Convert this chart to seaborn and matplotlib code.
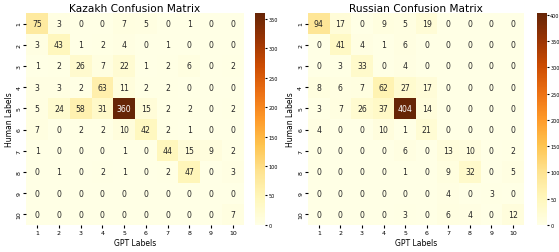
import matplotlib
matplotlib.use("Agg")
import matplotlib.pyplot as plt
import numpy as np
import seaborn as sns

labels = [str(i) for i in range(1, 11)]

kazakh_cm = [
    [75, 3, 0, 0, 7, 5, 0, 1, 0, 0],
    [3, 43, 1, 2, 4, 0, 1, 0, 0, 0],
    [1, 2, 26, 7, 22, 1, 2, 6, 0, 2],
    [3, 3, 2, 63, 11, 2, 2, 0, 0, 0],
    [5, 24, 58, 31, 360, 15, 2, 2, 0, 2],
    [7, 0, 2, 2, 10, 42, 2, 1, 0, 0],
    [1, 0, 0, 0, 1, 0, 44, 15, 9, 2],
    [0, 1, 0, 2, 1, 0, 2, 47, 0, 3],
    [0, 0, 0, 0, 0, 0, 0, 0, 0, 0],
    [0, 0, 0, 0, 0, 0, 0, 0, 0, 7],
]

russian_cm = [
    [94, 17, 0, 9, 5, 19, 0, 0, 0, 0],
    [0, 41, 4, 1, 6, 0, 0, 0, 0, 0],
    [0, 3, 33, 0, 4, 0, 0, 0, 0, 0],
    [8, 6, 7, 62, 27, 17, 0, 0, 0, 0],
    [3, 7, 26, 37, 404, 14, 0, 0, 0, 0],
    [4, 0, 0, 10, 1, 21, 0, 0, 0, 0],
    [0, 0, 0, 0, 6, 0, 13, 10, 0, 2],
    [0, 0, 0, 0, 1, 0, 9, 32, 0, 5],
    [0, 0, 0, 0, 0, 0, 4, 0, 3, 0],
    [0, 0, 0, 0, 3, 0, 6, 4, 0, 12],
]

titles = ["Kazakh Confusion Matrix", "Russian Confusion Matrix"]

fig = plt.figure(figsize=(5.59, 2.53), dpi=100)
panels = [
    ([0.047, 0.107, 0.389, 0.838], [0.456, 0.107, 0.018, 0.838]),
    ([0.551, 0.107, 0.386, 0.838], [0.960, 0.107, 0.018, 0.838]),
]

for cm, title, (ax_rect, cb_rect) in zip([kazakh_cm, russian_cm], titles, panels):
    ax = fig.add_axes(ax_rect)
    cax = fig.add_axes(cb_rect)
    sns.heatmap(
        np.asarray(cm),
        annot=True,
        fmt="d",
        cmap="YlOrBr",
        xticklabels=labels,
        yticklabels=labels,
        annot_kws={"fontsize": 5.6},
        ax=ax,
        cbar_ax=cax,
    )
    ax.set_title(title, fontsize=7.6, pad=1.5)
    ax.set_xlabel("GPT Labels", fontsize=5.5, labelpad=2)
    ax.set_ylabel("Human Labels", fontsize=5.5, labelpad=2)
    ax.tick_params(labelsize=4.5, length=2, pad=1.5)
    cax.tick_params(labelsize=3.5, length=1.5, pad=1)
    for sp in cax.spines.values():
        sp.set_visible(False)

fig.savefig("out.png", dpi=100)
